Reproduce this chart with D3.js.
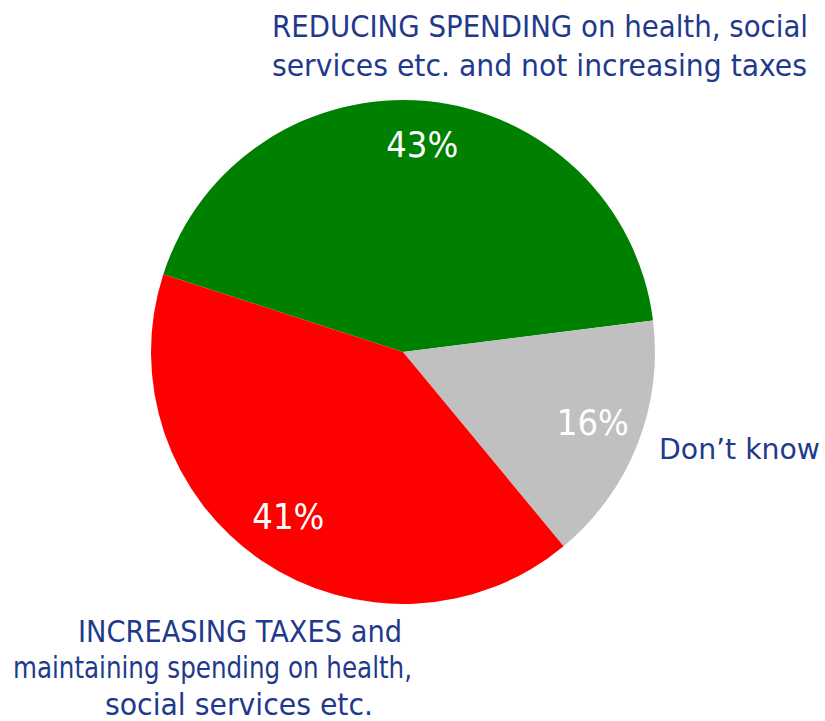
<!DOCTYPE html>
<html>
<head>
<meta charset="utf-8">
<script src="https://cdn.jsdelivr.net/npm/d3@7"></script>
<style>
  body { margin: 0; background: #fff; }
  svg { display: block; }
</style>
</head>
<body>
<div id="pie"></div>
<script>
// answers, in drawing order (clockwise)
const categories = ["Reducing spending", "Don't know", "Increasing taxes"];
const values = [43, 16, 41];
const colors = ["#008000", "#c0c0c0", "#ff0000"];
const labelLines = [
    ["REDUCING SPENDING on health, social", "services etc. and not increasing taxes"],
    ["Don\u2019t know"],
    ["INCREASING TAXES and", "maintaining spending on health,", "social services etc."]
];

const width = 825;
const height = 721;
const radius = 252;
const cx = 403, cy = 352;
const textColor = "#1f3a8c";
const font = "'DejaVu Sans Condensed', 'DejaVu Sans', sans-serif";

const data = categories.map((c, i) => ({name: c, value: values[i], color: colors[i], lines: labelLines[i]}));

const pie = d3.pie()
    .sort(null)
    .value(d => d.value)
    .startAngle(-72 * Math.PI / 180)
    .endAngle((360 - 72) * Math.PI / 180);

const arc = d3.arc().innerRadius(0).outerRadius(radius);
const labelArc = d3.arc().innerRadius(radius * 0.81).outerRadius(radius * 0.81);

const svg = d3.select("#pie")
    .append("svg")
    .attr("width", width)
    .attr("height", height);

const g = svg.append("g")
    .attr("transform", `translate(${cx},${cy})`);

const arcs = pie(data);

g.selectAll(".slice")
    .data(arcs)
    .enter()
    .append("path")
    .attr("class", "slice")
    .attr("fill", d => d.data.color)
    .attr("d", arc);

g.selectAll(".pct")
    .data(arcs)
    .enter()
    .append("text")
    .attr("class", "pct")
    .attr("transform", d => `translate(${labelArc.centroid(d)})`)
    .attr("text-anchor", "middle")
    .attr("dy", "0.22em")
    .attr("fill", "#fff")
    .attr("font-family", font)
    .attr("font-size", 36)
    .text(d => d.data.value + "%");

// category label boxes, relative to the pie centre:
// left edge / baseline / rendered width of each line
const labelLayout = [
    {size: 31, lines: [{x: -131, y: -315, w: 536}, {x: -131, y: -276, w: 535}]},
    {size: 28, lines: [{x: 256, y: 107, w: 161}]},
    {size: 31, lines: [{x: -325, y: 290, w: 324}, {x: -390, y: 326, w: 399}, {x: -298, y: 363, w: 268}]}
];

const cat = g.selectAll(".cat")
    .data(arcs)
    .enter()
    .append("text")
    .attr("class", "cat")
    .attr("fill", textColor)
    .attr("font-family", font)
    .attr("font-size", (d, i) => labelLayout[i].size);

cat.each(function(d, i)
{
    const t = d3.select(this);
    d.data.lines.forEach((line, j) =>
    {
        const L = labelLayout[i].lines[j];
        t.append("tspan")
            .attr("x", L.x)
            .attr("y", L.y)
            .attr("textLength", L.w)
            .attr("lengthAdjust", "spacingAndGlyphs")
            .text(line);
    });
});
</script>
</body>
</html>
